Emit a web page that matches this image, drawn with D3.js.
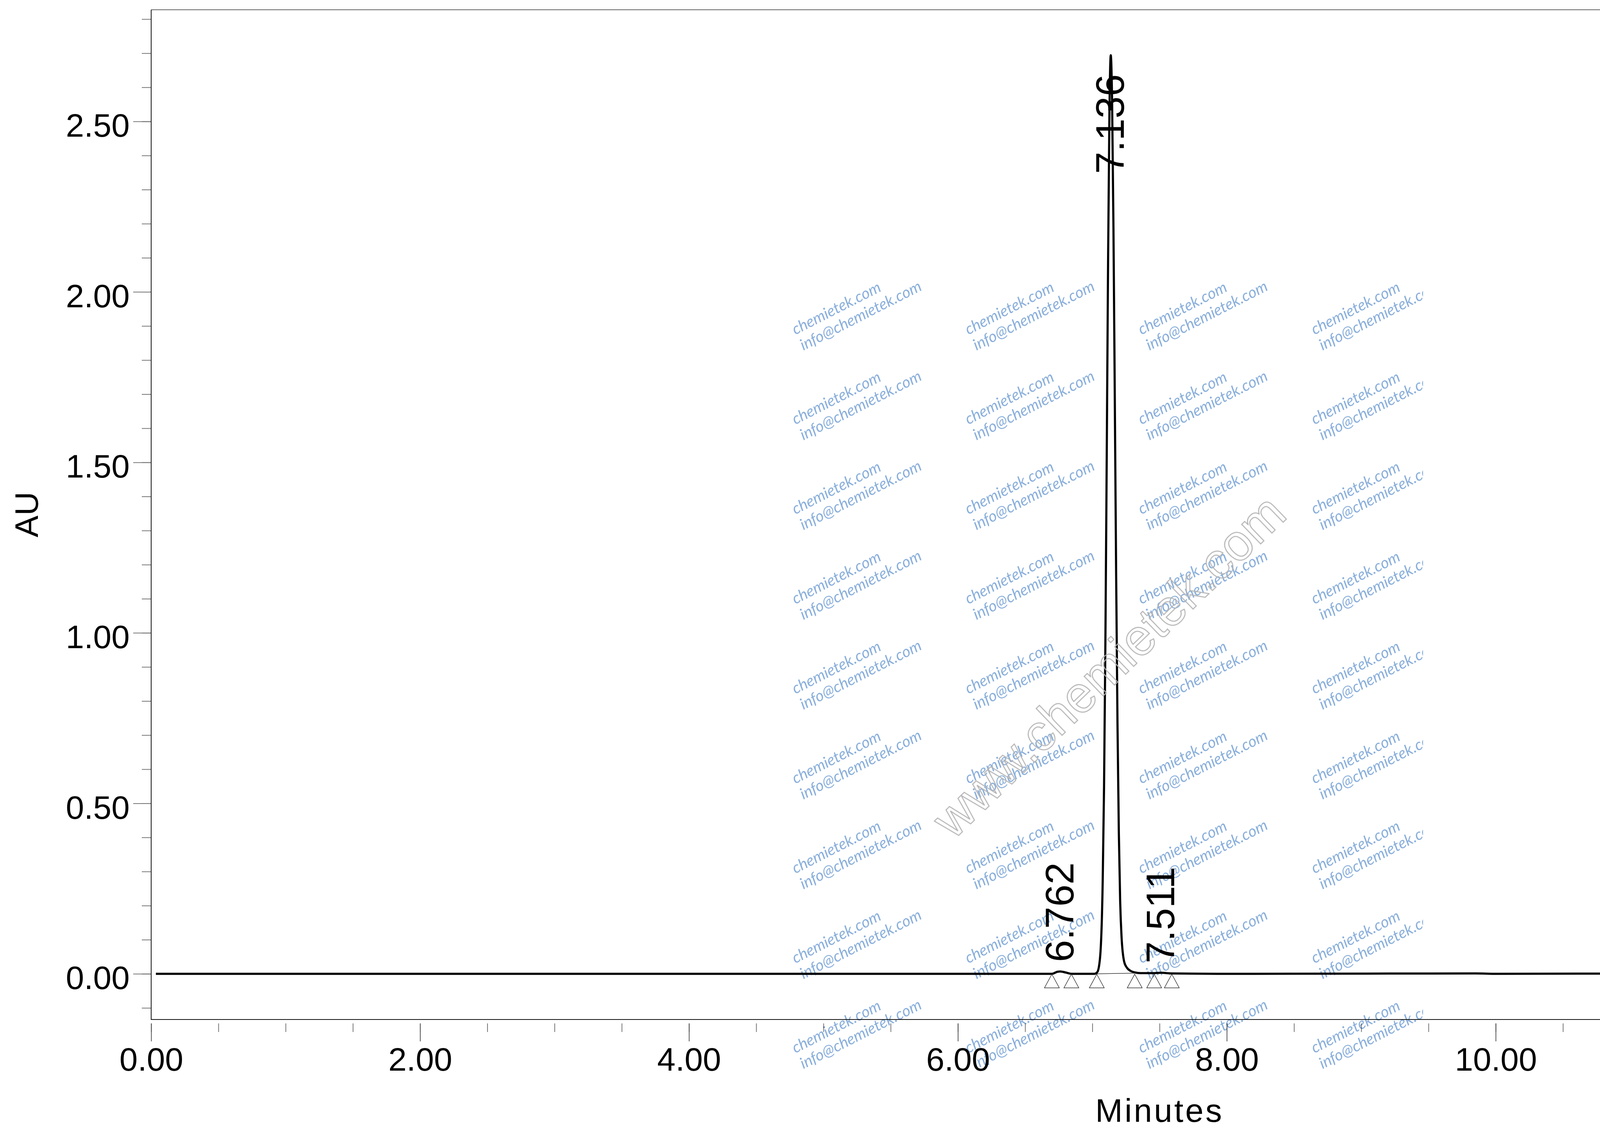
<!DOCTYPE html>
<html>
<head>
<meta charset="utf-8">
<script src="https://cdn.jsdelivr.net/npm/d3@7"></script>
<style>
  body { margin: 0; background: #fff; }
  svg { display: block; }
</style>
</head>
<body>
<svg id="chart"></svg>
<script>
// chromatogram trace (minutes, AU)
const traceTime = [0.035, 1.0, 2.0, 3.0, 4.0, 5.0, 6.0, 6.60, 6.70, 6.74, 6.762, 6.80, 6.844, 7.00,
    7.017, 7.037, 7.057, 7.077, 7.087, 7.097, 7.107, 7.117, 7.127, 7.137, 7.147, 7.157, 7.167,
    7.177, 7.187, 7.197, 7.207, 7.217, 7.237, 7.257, 7.287, 7.317, 7.357,
    7.40, 7.46, 7.511, 7.59, 8.0, 9.85, 10.0, 11.2, 12.0, 14.0, 14.56, 14.57, 15.0];
const traceAU = [0.000, 0.000, 0.000, 0.000, 0.000, 0.000, 0.000, 0.000, 0.000, 0.006, 0.007, 0.004, 0.000, 0.000,
    0.000, 0.005, 0.046, 0.271, 0.547, 0.971, 1.517, 2.087, 2.527, 2.694, 2.557, 2.188, 1.687,
    1.172, 0.734, 0.414, 0.211, 0.110, 0.035, 0.018, 0.008, 0.004, 0.002,
    0.002, 0.002, 0.003, 0.001, 0.000, 0.001, 0.000, 0.001, 0.000, 0.000, 0.000, -0.002, -0.002];

const peakRT = [6.762, 7.136, 7.511];
const peakLabels = ["6.762", "7.136", "7.511"];
const markerTimes = [6.699, 6.844, 7.033, 7.315, 7.460, 7.591];
const mainBaseline = [7.033, 7.315];

const xTicks = [0, 2, 4, 6, 8, 10, 12, 14];
const yTicks = [0, 0.5, 1.0, 1.5, 2.0, 2.5];
const xDomain = [0, 15];
const yDomain = [-0.134, 2.8275];

class Chromatogram {
    margin = { top: 25, right: 39, bottom: 283, left: 387 }

    constructor(svg, width = 5589, height = 2894) {
        this.svg = d3.select(svg);
        this.width = width;
        this.height = height;
    }

    initialize() {
        this.svg.attr("width", this.width).attr("height", this.height);
        this.pw = this.width - this.margin.left - this.margin.right;
        this.ph = this.height - this.margin.top - this.margin.bottom;
        this.x = d3.scaleLinear().domain(xDomain).range([this.margin.left, this.margin.left + this.pw]);
        this.y = d3.scaleLinear().domain(yDomain).range([this.margin.top + this.ph, this.margin.top]);
        this.font = "'Liberation Sans', Arial, sans-serif";
    }

    drawAxes() {
        const x = this.x, y = this.y, font = this.font;
        const bottom = this.margin.top + this.ph;

        // y axis, minor ticks every 0.1
        const yMinor = d3.range(-1, 29).map(d => d / 10);
        this.svg.append("g")
            .attr("transform", `translate(${this.margin.left},0)`)
            .call(d3.axisLeft(y).tickValues(yMinor).tickSize(24).tickFormat(""))
            .call(g => g.select(".domain").remove())
            .call(g => g.selectAll("line").attr("stroke", "#777").attr("stroke-width", 2));

        this.svg.append("g")
            .attr("transform", `translate(${this.margin.left},0)`)
            .call(d3.axisLeft(y).tickValues(yTicks).tickSize(46).tickPadding(9).tickFormat(d3.format(".2f")))
            .call(g => g.select(".domain").remove())
            .call(g => g.selectAll("line").attr("stroke", "#777").attr("stroke-width", 2))
            .call(g => g.selectAll("text")
                .attr("dy", "0.46em")
                .attr("fill", "#000")
                .style("font-family", font)
                .style("font-size", "84px"));

        // x axis, sits 10px under the frame
        const xMinor = d3.range(0, 31).map(d => d / 2);
        this.svg.append("g")
            .attr("transform", `translate(0,${bottom + 10})`)
            .call(d3.axisBottom(x).tickValues(xMinor).tickSize(22).tickFormat(""))
            .call(g => g.select(".domain").remove())
            .call(g => g.selectAll("line").attr("stroke", "#777").attr("stroke-width", 2));

        this.svg.append("g")
            .attr("transform", `translate(0,${bottom + 10})`)
            .call(d3.axisBottom(x).tickValues(xTicks).tickSize(46).tickPadding(15).tickFormat(d3.format(".2f")))
            .call(g => g.select(".domain").remove())
            .call(g => g.selectAll("line").attr("stroke", "#555").attr("stroke-width", 2))
            .call(g => g.selectAll("text")
                .attr("fill", "#000")
                .style("font-family", font)
                .style("font-size", "84px"));

        // frame
        const l = this.margin.left, r = this.margin.left + this.pw, t = this.margin.top;
        this.svg.append("path")
            .attr("d", `M${l},${t}H${r}V${bottom}`)
            .attr("fill", "none").attr("stroke", "#666").attr("stroke-width", 2);
        this.svg.append("path")
            .attr("d", `M${l},${t}V${bottom}H${r}`)
            .attr("fill", "none").attr("stroke", "#111").attr("stroke-width", 2);

        this.svg.append("text")
            .attr("transform", `translate(97,${t + this.ph / 2}) rotate(-90)`)
            .attr("text-anchor", "middle")
            .style("font-family", font).style("font-size", "84px")
            .text("AU");

        this.svg.append("text")
            .attr("x", l + this.pw / 2)
            .attr("y", 2873)
            .attr("text-anchor", "middle")
            .style("font-family", font).style("font-size", "84px")
            .style("letter-spacing", "5px")
            .text("Minutes");
    }

    drawTrace() {
        const x = this.x, y = this.y;
        const pts = traceTime.map((t, i) => [t, traceAU[i]]);

        // integration baseline under the main peak
        this.svg.append("line")
            .attr("x1", x(mainBaseline[0])).attr("x2", x(mainBaseline[1]))
            .attr("y1", y(0)).attr("y2", y(0.002))
            .attr("stroke", "#333").attr("stroke-width", 1.5);

        this.svg.append("path")
            .datum(pts)
            .attr("fill", "none")
            .attr("stroke", "#000")
            .attr("stroke-width", 5.5)
            .attr("stroke-linejoin", "round")
            .attr("d", d3.line().x(d => x(d[0])).y(d => y(d[1])).curve(d3.curveMonotoneX));

        // peak start / end markers
        const tri = 38, triH = 35;
        this.svg.append("g").selectAll("path").data(markerTimes)
            .join("path")
            .attr("d", d => `M${x(d)},${y(0) + 1}L${x(d) + tri / 2},${y(0) + 1 + triH}L${x(d) - tri / 2},${y(0) + 1 + triH}Z`)
            .attr("fill", "none")
            .attr("stroke", "#333")
            .attr("stroke-width", 1.5);

        // retention time labels, kept below the top of the frame
        const top = this.margin.top;
        peakRT.forEach((rt, i) => {
            const near = pts.filter(p => Math.abs(p[0] - rt) < 0.03);
            const apex = d3.max(near, p => p[1]);
            const lab = this.svg.append("text")
                .style("font-family", this.font)
                .style("font-size", "102px")
                .text(peakLabels[i]);
            const len = lab.node().getComputedTextLength();
            const ys = Math.max(y(apex) - 24, top + 165 + len);
            lab.attr("transform", `translate(${x(rt) + 34},${ys}) rotate(-90)`);
        });
    }

    drawWatermark() {
        const defs = this.svg.append("defs");
        defs.append("clipPath").attr("id", "wmclip")
            .append("rect").attr("x", 0).attr("y", 0).attr("width", 3643).attr("height", this.height);

        const wm = this.svg.append("g")
            .attr("clip-path", "url(#wmclip)")
            .style("mix-blend-mode", "multiply");
        const cols = [0, 1, 2, 3], rows = d3.range(9);
        cols.forEach(c => rows.forEach(r => {
            const g = wm.append("g")
                .attr("transform", `translate(${2036 + c * 443},${858 + r * 230}) rotate(-27)`)
                .style("font-family", "Lato, 'Open Sans', sans-serif")
                .style("font-style", "italic")
                .style("font-size", "40px")
                .attr("fill", "#8aafdb");
            g.append("text").attr("x", 0).attr("y", 0).text("chemietek.com");
            g.append("text").attr("x", 0).attr("y", 45).text("info@chemietek.com");
        }));

        this.svg.append("text")
            .attr("transform", "translate(2838,1705) rotate(-44)")
            .attr("text-anchor", "middle")
            .attr("dominant-baseline", "central")
            .style("font-family", this.font)
            .style("font-size", "131px")
            .attr("fill", "none")
            .attr("stroke", "#b4b4b4")
            .attr("stroke-width", 2.5)
            .text("www.chemietek.com");
    }
}

const chart = new Chromatogram("#chart");
chart.initialize();
chart.drawAxes();
chart.drawTrace();
chart.drawWatermark();
</script>
</body>
</html>
